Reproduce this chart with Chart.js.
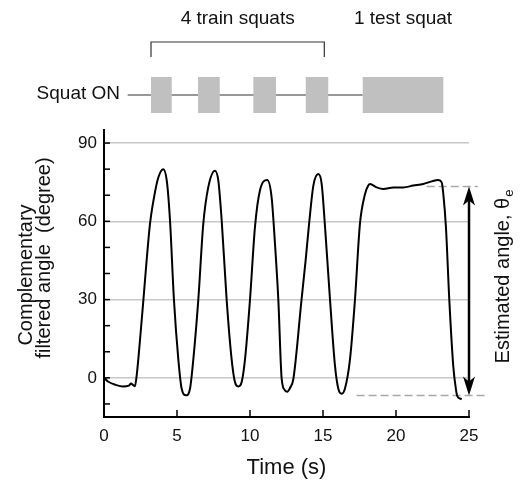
<!DOCTYPE html>
<html>
<head>
<meta charset="utf-8">
<script src="https://cdn.jsdelivr.net/npm/chart.js@4.4.0/dist/chart.umd.min.js"></script>
<style>
  html, body { margin: 0; padding: 0; background: #fff; }
  .chart-container { position: relative; width: 523px; height: 481px; }
</style>
</head>
<body>
<div class="chart-container"><canvas id="chart"></canvas></div>
<script>
// --- Data ---
const TIME = [
  0, 0.3, 0.8, 1.3, 1.7, 1.85, 2.0, 2.12, 2.25, 2.47, 2.7, 2.92, 3.15, 3.42, 3.72, 4.06, 4.3, 4.52, 4.79,
  5.09, 5.32, 5.62, 5.89, 6.12, 6.46, 6.8, 7.14, 7.6, 7.83, 8.06, 8.4, 8.74, 8.97, 9.2, 9.43, 9.66,
  10.0, 10.34, 10.68, 11.18, 11.48, 11.71, 11.94, 12.17, 12.4, 12.55, 12.75, 12.97, 13.53, 13.81, 14.06,
  14.34, 14.68, 14.91, 15.14, 15.48, 15.82, 16.05, 16.28, 16.5, 16.85, 17.19, 17.53, 17.88, 18.1, 18.22,
  18.68, 19.13, 19.82, 20.5, 21.18, 21.87, 22.44, 22.9, 23.13, 23.24, 23.42, 23.65, 23.92, 24.1, 24.2,
  24.43, 24.5
];
const ANGLE = [
  0, -1.5, -2.7, -3.3, -3.0, -2.2, -2.8, -3.2, 1.5, 14.8, 30, 45, 59, 69, 76.8, 80, 75.6, 60.4, 30,
  7.2, -4.2, -6.7, -4.2, 7.2, 30, 59, 73, 79.4, 75.6, 60.4, 30, 7.2, -1.6, -3.3, -1.6, 7.2,
  30, 57.8, 71.8, 75.8, 69.2, 51.5, 30, -0.4, -4.8, -5.3, -3.8, -0.4, 30, 45, 59.8,
  73.7, 78.1, 74.3, 57.8, 30, 4.7, -4.2, -6.1, -4.2, 7.2, 30, 59, 70.5, 73.7, 74.3,
  73, 72.4, 73, 73, 73.7, 74.3, 75.3, 75.8, 74.9, 70.5, 57.8, 30, 4.7, -4.2, -7,
  -8, -8.2
];

const X_TICKS = [0, 5, 10, 15, 20, 25];
const Y_TICKS = [-10, 0, 10, 20, 30, 40, 50, 60, 70, 80, 90];
const Y_LABELS = [0, 30, 60, 90];

// "Squat ON" schedule (s)
const SQUAT_START = [3.22, 6.44, 10.23, 13.82, 17.72];
const SQUAT_END = [4.64, 7.93, 11.78, 15.36, 23.24];
const SQUAT_LINE = [1.62, 17.72];
const TRAIN_BRACKET = [3.22, 15.09];

// Estimated angle range (degree)
const EST_TOP = 73.3;
const EST_BOTTOM = -6.8;
const EST_TOP_LINE_X = [22.1, 25.6];
const EST_BOTTOM_LINE_X = [17.3, 26.3];
const ARROW_X = 25;

const FONT = 'Arial, "Liberation Sans", sans-serif';
const INK = '#111';

// --- Extra drawing: inward ticks, schematic, arrow, axis labels ---
function arrowHead(ctx, x, tipY, dir) {
  // dir = 1 points up, -1 points down
  ctx.beginPath();
  ctx.moveTo(x, tipY);
  ctx.lineTo(x - 6, tipY + dir * 19);
  ctx.lineTo(x, tipY + dir * 14);
  ctx.lineTo(x + 6, tipY + dir * 19);
  ctx.closePath();
  ctx.fill();
}

const decorations = {
  id: 'decorations',
  afterDraw(chart) {
    const { ctx, scales: { x, y } } = chart;
    ctx.save();

    // inward tick marks
    ctx.strokeStyle = '#000';
    ctx.lineWidth = 1.5;
    X_TICKS.forEach(v => {
      const px = x.getPixelForValue(v);
      ctx.beginPath(); ctx.moveTo(px, y.bottom); ctx.lineTo(px, y.bottom - 7); ctx.stroke();
    });
    Y_TICKS.forEach(v => {
      const py = y.getPixelForValue(v);
      ctx.beginPath(); ctx.moveTo(x.left, py); ctx.lineTo(x.left + 6, py); ctx.stroke();
    });

    // double arrow for the estimated angle
    const ax = x.getPixelForValue(ARROW_X);
    const yTop = y.getPixelForValue(EST_TOP);
    const yBot = y.getPixelForValue(EST_BOTTOM);
    ctx.fillStyle = '#000';
    ctx.lineWidth = 2.5;
    ctx.beginPath(); ctx.moveTo(ax, yTop + 12); ctx.lineTo(ax, yBot - 12); ctx.stroke();
    arrowHead(ctx, ax, yTop, 1);
    arrowHead(ctx, ax, yBot, -1);

    // Squat ON schematic
    const lineY = 95, boxTop = 77, boxBottom = 113;
    ctx.strokeStyle = '#333';
    ctx.lineWidth = 1.2;
    ctx.beginPath();
    ctx.moveTo(x.getPixelForValue(SQUAT_LINE[0]), lineY);
    ctx.lineTo(x.getPixelForValue(SQUAT_LINE[1]), lineY);
    ctx.stroke();
    ctx.fillStyle = '#c0c0c0';
    SQUAT_START.forEach((s, i) => {
      const x0 = x.getPixelForValue(s), x1 = x.getPixelForValue(SQUAT_END[i]);
      ctx.fillRect(x0, boxTop, x1 - x0, boxBottom - boxTop);
    });

    // bracket over the training squats
    const b0 = x.getPixelForValue(TRAIN_BRACKET[0]), b1 = x.getPixelForValue(TRAIN_BRACKET[1]);
    ctx.beginPath();
    ctx.moveTo(b0, 57); ctx.lineTo(b0, 42); ctx.lineTo(b1, 42); ctx.lineTo(b1, 57);
    ctx.stroke();

    ctx.fillStyle = INK;
    ctx.font = `19px ${FONT}`;
    ctx.textBaseline = 'middle';
    ctx.textAlign = 'center';
    ctx.fillText('4 train squats', (b0 + b1) / 2, 19);
    const t0 = x.getPixelForValue(SQUAT_START[4]), t1 = x.getPixelForValue(SQUAT_END[4]);
    ctx.fillText('1 test squat', (t0 + t1) / 2, 19);
    ctx.textAlign = 'right';
    ctx.fillText('Squat ON', 120, 94);

    // y axis title (two lines, rotated)
    ctx.font = `20px ${FONT}`;
    ctx.textAlign = 'center';
    ctx.textBaseline = 'alphabetic';
    [['Complementary', 32, 275], ['filtered angle  (degree)', 50, 258]].forEach(([txt, bx, cy]) => {
      ctx.save();
      ctx.translate(bx, cy);
      ctx.rotate(-Math.PI / 2);
      ctx.fillText(txt, 0, 0);
      ctx.restore();
    });

    // right label with subscript
    ctx.save();
    ctx.translate(509, 277);
    ctx.rotate(-Math.PI / 2);
    const main = 'Estimated angle, \u03b8';
    ctx.font = `20px ${FONT}`;
    const wMain = ctx.measureText(main).width;
    ctx.font = `13px ${FONT}`;
    const wSub = ctx.measureText('e').width;
    const start = -(wMain + wSub) / 2;
    ctx.textAlign = 'left';
    ctx.font = `20px ${FONT}`;
    ctx.fillText(main, start, 0);
    ctx.font = `13px ${FONT}`;
    ctx.fillText('e', start + wMain + 1, 4);
    ctx.restore();

    ctx.restore();
  }
};

// --- Chart ---
const ctx = document.getElementById('chart').getContext('2d');

const dashStyle = { borderColor: '#a8a8a8', borderWidth: 1.5, borderDash: [8, 4], pointRadius: 0, clip: false, order: 2 };

const myChart = new Chart(ctx, {
  type: 'line',
  data: {
    datasets: [
      {
        data: TIME.map((t, i) => ({ x: t, y: ANGLE[i] })),
        borderColor: '#000',
        borderWidth: 2,
        pointRadius: 0,
        cubicInterpolationMode: 'monotone',
        order: 1
      },
      { ...dashStyle, data: EST_TOP_LINE_X.map(t => ({ x: t, y: EST_TOP })) },
      { ...dashStyle, data: EST_BOTTOM_LINE_X.map(t => ({ x: t, y: EST_BOTTOM })) }
    ]
  },
  options: {
    responsive: true,
    maintainAspectRatio: false,
    animation: false,
    layout: { padding: { top: 130, right: 54, bottom: 0, left: 0 } },
    plugins: { legend: { display: false }, tooltip: { enabled: false } },
    scales: {
      x: {
        type: 'linear', min: 0, max: 25,
        afterBuildTicks: s => { s.ticks = X_TICKS.map(v => ({ value: v })); },
        afterFit: s => { s.height = 64; },
        grid: { display: false, drawTicks: false },
        border: { display: true, color: '#000', width: 2 },
        ticks: { color: INK, font: { family: FONT, size: 17 }, padding: 9, maxRotation: 0 },
        title: { display: true, text: 'Time (s)', color: INK, font: { family: FONT, size: 22 }, padding: { top: 0, bottom: 0 } }
      },
      y: {
        type: 'linear', min: -15, max: 95,
        afterBuildTicks: s => { s.ticks = Y_TICKS.map(v => ({ value: v })); },
        afterFit: s => { s.width = 104; },
        grid: {
          drawTicks: false,
          lineWidth: 1.5,
          color: c => (c.tick && Y_LABELS.includes(c.tick.value)) ? '#c8c8c8' : 'rgba(0,0,0,0)'
        },
        border: { display: true, color: '#000', width: 2 },
        ticks: {
          color: INK, font: { family: FONT, size: 17 }, padding: 7,
          callback: v => Y_LABELS.includes(v) ? String(v) : ''
        }
      }
    }
  },
  plugins: [decorations]
});
</script>
</body>
</html>
